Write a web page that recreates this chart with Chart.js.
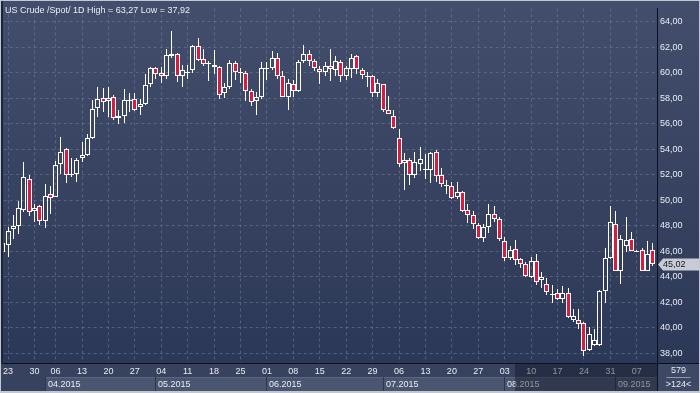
<!DOCTYPE html>
<html>
<head>
<meta charset="utf-8">
<script src="https://cdn.jsdelivr.net/npm/chart.js@4.4.0/dist/chart.umd.min.js"></script>
<style>
  html, body { margin: 0; padding: 0; background: #2f3b59; }
  #myChart { display: block; }
</style>
</head>
<body>
<canvas id="myChart" width="700" height="393"></canvas>
<script>
const titleText = 'US Crude /Spot/ 1D High = 63,27 Low = 37,92';
const firstDay = '2015-03-20';
const holidays = ['2015-04-03'];
const yTicks = [38, 40, 42, 44, 46, 48, 50, 52, 54, 56, 58, 60, 62, 64];
const barsTotal = '579';
const barsVisible = '>124<';

const openP = [45.98, 46.54, 47.73, 47.99, 49.25, 51.69, 49.17, 49.53, 48.40, 50.51,
  50.28, 52.87, 54.03, 51.95, 52.03, 53.29, 53.57, 54.86, 57.22, 58.02,
  57.82, 58.07, 56.63, 56.61, 57.77, 57.92, 57.30, 57.56, 59.10, 60.34,
  60.00, 59.77, 61.34, 61.47, 59.75, 60.06, 60.19, 62.14, 61.11, 60.75,
  60.62, 60.44, 58.38, 58.85, 60.78, 60.03, 60.00, 58.54, 57.77, 58.07,
  60.36, 60.39, 61.16, 59.75, 58.13, 59.16, 58.59, 60.91, 61.47, 60.91,
  60.31, 60.08, 60.57, 60.21, 60.85, 59.75, 60.31, 61.29, 60.21, 59.72,
  59.75, 58.38, 59.10, 57.10, 56.61, 54.91, 52.93, 53.13, 52.02, 52.85,
  52.41, 52.41, 53.78, 51.95, 51.20, 51.12, 50.27, 50.69, 49.27, 48.88,
  48.04, 47.08, 47.91, 48.94, 48.55, 46.80, 45.46, 46.18, 45.41, 45.03,
  43.97, 45.26, 43.79, 43.48, 42.60, 42.76, 42.24, 42.76, 40.62, 40.62,
  40.39, 38.25, 38.64, 38.64, 42.89, 45.46, 48.11, 44.48, 46.41, 46.95,
  46.05, 46.10, 44.48, 46.10];
const highP = [46.80, 47.91, 48.89, 49.97, 52.98, 52.02, 49.71, 49.60, 51.30, 51.12,
  53.11, 54.93, 54.08, 53.31, 53.31, 54.57, 55.24, 57.89, 58.90, 58.80,
  58.90, 58.25, 57.10, 58.77, 58.38, 58.38, 57.95, 59.93, 60.44, 60.47,
  60.47, 61.88, 63.30, 61.52, 60.65, 60.65, 62.19, 62.71, 61.88, 60.91,
  61.81, 60.52, 59.18, 60.98, 60.93, 60.39, 60.13, 58.72, 58.46, 60.88,
  60.83, 61.70, 61.55, 60.18, 59.49, 59.41, 61.03, 62.19, 61.81, 61.09,
  60.52, 60.83, 61.88, 61.29, 60.98, 60.52, 61.50, 61.37, 60.39, 60.06,
  59.80, 59.49, 59.16, 58.20, 57.05, 55.58, 53.70, 53.31, 53.83, 54.21,
  53.62, 53.78, 53.96, 52.54, 51.56, 51.46, 51.46, 50.74, 49.71, 49.19,
  48.22, 48.17, 49.71, 49.58, 48.68, 47.13, 46.41, 46.93, 45.51, 45.20,
  45.59, 45.80, 44.35, 43.92, 43.40, 43.02, 43.27, 43.14, 41.47, 41.47,
  40.44, 40.06, 39.93, 42.94, 46.23, 49.58, 49.19, 47.26, 48.68, 47.52,
  46.08, 46.23, 46.83, 46.67];
const lowP = [45.80, 45.59, 46.99, 47.39, 49.07, 48.76, 48.29, 48.09, 47.86, 48.91,
  50.28, 52.10, 51.33, 51.82, 51.43, 52.98, 53.44, 54.80, 56.53, 56.92,
  56.53, 56.27, 55.96, 56.09, 56.92, 56.99, 56.71, 57.51, 58.90, 59.49,
  59.23, 59.49, 61.16, 59.31, 58.90, 59.49, 60.01, 60.96, 60.52, 59.36,
  59.93, 57.95, 58.02, 58.77, 59.44, 59.23, 57.82, 57.43, 56.66, 57.95,
  59.44, 60.21, 59.49, 58.07, 57.05, 58.13, 58.51, 60.78, 60.52, 60.13,
  59.10, 59.75, 59.36, 59.75, 59.28, 59.41, 59.62, 59.88, 59.49, 58.92,
  58.07, 58.07, 56.92, 56.74, 55.58, 52.59, 50.79, 51.20, 51.77, 52.28,
  51.64, 51.38, 51.46, 51.07, 50.48, 50.10, 50.10, 49.07, 48.22, 47.78,
  47.01, 46.75, 47.44, 48.29, 46.83, 45.26, 45.33, 44.95, 44.69, 44.00,
  43.92, 43.35, 43.15, 42.55, 41.99, 42.19, 41.99, 40.75, 40.44, 39.93,
  37.78, 38.18, 38.59, 38.59, 41.99, 45.38, 44.43, 43.45, 45.98, 46.03,
  46.00, 44.43, 44.43, 44.82];
const closeP = [46.67, 47.57, 47.99, 49.37, 51.82, 49.12, 49.43, 48.42, 50.35, 50.20,
  52.75, 53.83, 51.97, 52.05, 53.18, 53.52, 54.91, 57.15, 57.95, 57.69,
  58.00, 56.48, 56.43, 57.87, 57.87, 57.12, 57.56, 59.05, 60.34, 59.88,
  59.77, 61.37, 61.47, 59.75, 60.19, 60.08, 62.11, 61.03, 60.73, 60.78,
  60.44, 58.28, 58.85, 60.78, 60.06, 60.06, 58.54, 57.74, 58.07, 60.39,
  60.39, 61.16, 59.75, 58.13, 59.23, 58.59, 60.88, 61.47, 60.91, 60.39,
  60.08, 60.57, 60.26, 60.91, 59.75, 60.34, 61.16, 60.31, 59.80, 59.75,
  58.38, 59.18, 57.10, 56.79, 55.71, 52.85, 53.13, 52.02, 53.00, 53.23,
  52.44, 53.70, 51.90, 51.30, 51.18, 50.17, 50.69, 49.14, 48.88, 48.16,
  47.08, 47.91, 48.94, 48.55, 46.95, 45.51, 46.10, 45.33, 45.03, 44.05,
  45.26, 43.61, 43.97, 42.84, 42.63, 42.30, 42.76, 40.83, 40.91, 40.31,
  38.18, 39.54, 39.08, 42.89, 45.46, 48.29, 44.48, 47.01, 46.93, 46.05,
  46.04, 44.48, 45.80, 45.02];

const upColor = 'rgba(0,0,0,0)';
const downColor = '#dc1a3e';
const gridColor = 'rgba(118,132,162,0.5)';
const textColor = '#e9ecf2';

function tradingDays(start, count) {
  const days = [];
  const d = new Date(start + 'T00:00:00Z');
  while (days.length < count) {
    const wd = d.getUTCDay();
    const iso = d.toISOString().slice(0, 10);
    if (wd !== 0 && wd !== 6 && !holidays.includes(iso)) days.push(new Date(d));
    d.setUTCDate(d.getUTCDate() + 1);
  }
  return days;
}

const dates = tradingDays(firstDay, closeP.length);
const pad = (n) => String(n).padStart(2, '0');

const weekStarts = [];
const monthStarts = [];
dates.forEach((d, i) => {
  if (i === 0) return;
  if (d.getUTCDay() < dates[i - 1].getUTCDay()) weekStarts.push(i);
  if (d.getUTCMonth() !== dates[i - 1].getUTCMonth()) monthStarts.push(i);
});

const bodyData = closeP.map((c, i) => ({ x: i, y: [openP[i], c] }));
const upperWick = highP.map((h, i) => ({ x: i, y: [Math.max(openP[i], closeP[i]), h] }));
const lowerWick = lowP.map((l, i) => ({ x: i, y: [l, Math.min(openP[i], closeP[i])] }));
const bodyColors = closeP.map((c, i) => (c < openP[i] ? downColor : upColor));

const fmt = (v) => v.toFixed(2).replace('.', ',');

const snapBars = {
  id: 'snapBars',
  afterDatasetsUpdate(chart) {
    chart.data.datasets.forEach((ds, di) => {
      chart.getDatasetMeta(di).data.forEach((bar) => {
        bar.x = Math.floor(bar.x) + 0.5;
        const top = Math.round(Math.min(bar.y, bar.base));
        let bottom = Math.round(Math.max(bar.y, bar.base));
        if (di === 0 && bottom - top < 1) bottom = top + 1;
        bar.y = top;
        bar.base = bottom;
      });
    });
  },
};

const backdrop = {
  id: 'backdrop',
  beforeDraw(chart) {
    const { ctx, width, height, chartArea } = chart;
    const xs = chart.scales.x;
    const g = ctx.createLinearGradient(0, 0, 0, height);
    g.addColorStop(0, '#424e6b');
    g.addColorStop(1, '#2a3655');
    ctx.save();
    ctx.fillStyle = g;
    ctx.fillRect(0, 0, width, height);
    // bottom axis strip
    ctx.fillStyle = '#36425e';
    ctx.fillRect(0, chartArea.bottom, chartArea.right, height - chartArea.bottom);
    // month bands
    ctx.font = '9px "Liberation Sans", Arial, sans-serif';
    ctx.textBaseline = 'middle';
    monthStarts.forEach((m, k) => {
      const x0 = Math.floor(xs.getPixelForValue(m));
      const next = k + 1 < monthStarts.length ? xs.getPixelForValue(monthStarts[k + 1]) : chartArea.right;
      const x1 = Math.min(Math.floor(next), chartArea.right);
      ctx.fillStyle = '#4a5570';
      ctx.fillRect(x0, 377, x1 - x0, 14);
      ctx.fillStyle = '#5b6682';
      ctx.fillRect(x0, 377, x1 - x0, 1);
      ctx.fillStyle = '#2c3650';
      ctx.fillRect(x0, 377, 1, 14);
      const d = dates[m];
      ctx.fillStyle = textColor;
      ctx.fillText(pad(d.getUTCMonth() + 1) + '.' + d.getUTCFullYear(), x0 + 3, 384.5);
    });
    // box bottom right
    ctx.fillStyle = '#3d4864';
    ctx.fillRect(chartArea.right, chartArea.bottom, width - chartArea.right, height - chartArea.bottom);
    ctx.restore();
  },
  afterDraw(chart) {
    const { ctx, width, height, chartArea } = chart;
    const xs = chart.scales.x;
    const ys = chart.scales.y;
    ctx.save();
    // dimmed tail of the time strip
    const dimX = Math.round(xs.getPixelForValue(96.95));
    ctx.fillStyle = 'rgba(14,19,34,0.42)';
    ctx.fillRect(dimX, chartArea.bottom + 1, chartArea.right - dimX, height - chartArea.bottom - 3);

    ctx.fillStyle = '#0b1020';
    ctx.fillRect(chartArea.right, chartArea.bottom, 1, height - chartArea.bottom);
    ctx.fillRect(0, chartArea.bottom, width, 1);

    ctx.font = '9px "Liberation Sans", Arial, sans-serif';
    ctx.textBaseline = 'middle';
    ctx.fillStyle = textColor;
    ctx.fillText(titleText, 5, 10.5);

    // last price tag
    const last = closeP[closeP.length - 1];
    const py = Math.round(ys.getPixelForValue(last)) + 0.5;
    const tx = chartArea.right + 1;
    ctx.fillStyle = '#c7cbd3';
    ctx.beginPath();
    ctx.moveTo(tx, py);
    ctx.lineTo(tx + 5, py - 6);
    ctx.lineTo(width - 1, py - 6);
    ctx.lineTo(width - 1, py + 6);
    ctx.lineTo(tx + 5, py + 6);
    ctx.closePath();
    ctx.fill();
    ctx.fillStyle = '#111827';
    ctx.fillText(fmt(last), tx + 5, py + 0.5);

    // bar counters
    const cx = (chartArea.right + width) / 2;
    ctx.textAlign = 'center';
    ctx.fillStyle = textColor;
    ctx.fillText(barsTotal, cx, 371);
    ctx.fillText(barsVisible, cx, 385);
    ctx.fillStyle = '#8d96aa';
    ctx.fillRect(cx - 12, 377, 24, 1);

    // frame
    ctx.fillStyle = '#1d2539';
    ctx.fillRect(1, 1, 2, chartArea.bottom);
    ctx.fillStyle = '#c3c7cf';
    ctx.fillRect(0, 0, width, 1);
    ctx.fillRect(0, 0, 1, height);
    ctx.fillRect(width - 1, 0, 1, height);
    ctx.fillRect(0, height - 2, width, 2);
    ctx.restore();
  },
};

Chart.defaults.font.family = '"Liberation Sans", Arial, sans-serif';
Chart.defaults.font.size = 9;
Chart.defaults.color = textColor;

const barCommon = { grouped: false, inflateAmount: 0, clip: 0, borderSkipped: false };

const chartConfig = {
  type: 'bar',
  data: {
    datasets: [
      { ...barCommon, label: 'body', data: bodyData, backgroundColor: bodyColors, borderColor: '#ffffff', borderWidth: 1, barThickness: 5 },
      { ...barCommon, label: 'upper', data: upperWick, backgroundColor: '#ffffff', borderWidth: 0, barThickness: 1 },
      { ...barCommon, label: 'lower', data: lowerWick, backgroundColor: '#ffffff', borderWidth: 0, barThickness: 1 },
    ],
  },
  options: {
    responsive: false,
    animation: false,
    devicePixelRatio: 1,
    layout: { padding: { left: 3, top: 3, right: 0, bottom: 0 } },
    plugins: { legend: { display: false }, tooltip: { enabled: false } },
    scales: {
      x: {
        type: 'linear',
        min: 0.19,
        max: 123.82,
        offset: false,
        afterBuildTicks: (axis) => { axis.ticks = weekStarts.map((i) => ({ value: i })); },
        afterFit: (axis) => { axis.height = 30; },
        grid: { color: gridColor, offset: false, drawTicks: false },
        border: { display: true, color: '#0b1020', width: 1, dash: [3, 3] },
        ticks: {
          autoSkip: false,
          maxRotation: 0,
          padding: 3,
          color: textColor,
          callback: (v) => pad(dates[v].getUTCDate()),
        },
      },
      y: {
        position: 'right',
        min: 37.25,
        max: 65.05,
        afterBuildTicks: (axis) => { axis.ticks = yTicks.map((v) => ({ value: v })); },
        afterFit: (axis) => { axis.width = 43; },
        grid: { color: gridColor, drawTicks: false },
        border: { display: true, color: '#0b1020', width: 1, dash: [3, 3] },
        ticks: { padding: 3, color: textColor, callback: (v) => fmt(v) },
      },
    },
  },
  plugins: [snapBars, backdrop],
};

const ctx = document.getElementById('myChart').getContext('2d');
const chart = new Chart(ctx, chartConfig);
</script>
</body>
</html>
